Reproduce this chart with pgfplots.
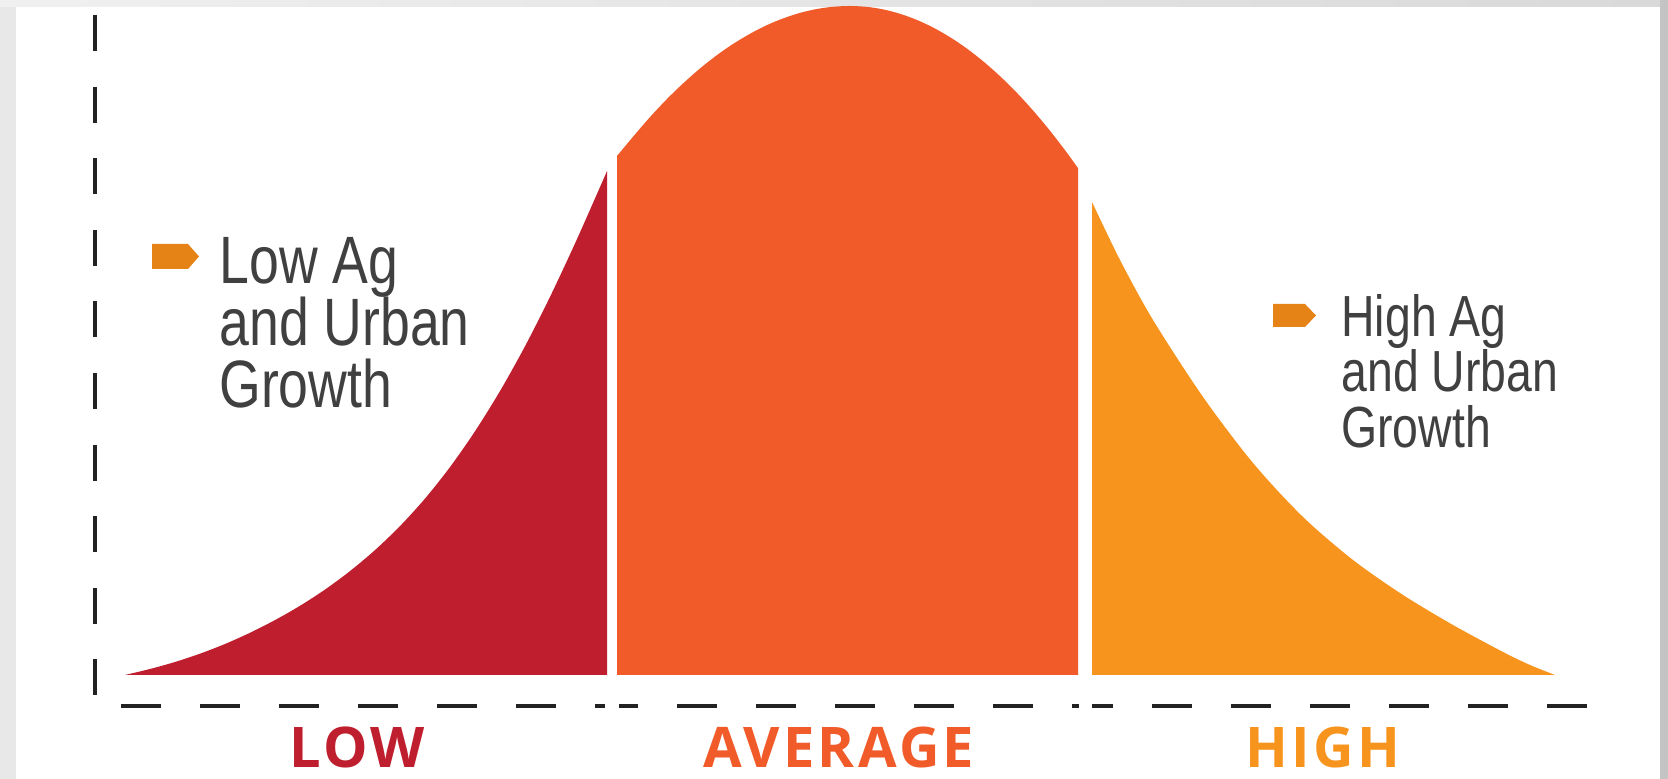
\documentclass[border=0pt]{standalone}
\usepackage{fontspec}
\setmainfont{Liberation Sans}
\newfontfamily\narrowfont[FakeStretch=0.8]{Liberation Sans}
\newfontfamily\catfont[LetterSpace=6]{Open Sans}
\usepackage{pgfplots}
\pgfplotsset{compat=1.18}
\definecolor{lowred}{HTML}{BE1E2D}
\definecolor{avgorange}{HTML}{F15A29}
\definecolor{highorange}{HTML}{F7941D}
\definecolor{marker}{HTML}{E58316}
\definecolor{txt}{HTML}{404040}
\definecolor{dashc}{HTML}{222222}
\begin{document}
\begin{tikzpicture}
\begin{axis}[width=834pt,height=389.5pt,scale only axis,
  xmin=0,xmax=1668,ymin=-104,ymax=675,
  axis lines=none,ticks=none,clip=false]
% frame
\fill[black!9] (axis cs:0,-104) rectangle (axis cs:1668,675);
\fill[left color=black!6,right color=black!15] (axis cs:0,668) rectangle (axis cs:1668,675);
\fill[black!23] (axis cs:1660,-104) rectangle (axis cs:1668,675);
\fill[white] (axis cs:16,-104) rectangle (axis cs:1660,668);
% low
\addplot[draw=none,fill=lowred,smooth,tension=0.5] coordinates {
(125,0) (150,6) (175,13) (200,21.3) (225,31) (250,42.2) (275,54.9) (300,69.2)
(325,85.4) (350,103.9) (375,124.9) (400,148.9) (425,176.4) (450,207.9) (475,243.7)
(500,283.9) (525,328.7) (550,378.1) (575,431.5) (600,487.9) (607,504)} \closedcycle;
% average
\addplot[draw=none,fill=avgorange,smooth,tension=0.5] coordinates {
(617,519) (633,538.2) (650,557.9) (667,576) (683,591.5) (700,606.5) (717,619.9)
(733,631) (750,641.2) (767,649.9) (783,656.5) (800,662.1) (817,666) (833,668.2)
(850,669) (867,668.1) (883,665.6) (900,661.2) (917,655) (933,647.5) (950,637.8)
(967,626.3) (983,613.8) (1000,598.8) (1017,582) (1033,564.5) (1050,544.2)
(1067,522.1) (1078,506.8)} \closedcycle;
% high
\addplot[draw=none,fill=highorange,smooth,tension=0.5] coordinates {
(1092,473) (1120,415) (1153,355) (1203,278) (1253,212) (1303,158)
(1353,115) (1403,80) (1453,50) (1503,23) (1530,10) (1555,0)} \closedcycle;
% dashed axes
\addplot[dashc,line width=1.8pt,dash pattern=on 18pt off 17.8pt] coordinates {(95,660) (95,-20)};
\addplot[dashc,line width=1.8pt,dash pattern=on 20pt off 19.5pt] coordinates {(121,-31) (605,-31)};
\addplot[dashc,line width=1.8pt,dash pattern=on 20pt off 19.5pt,dash phase=10.5pt] coordinates {(619,-31) (1079,-31)};
\addplot[dashc,line width=1.8pt,dash pattern=on 20pt off 19.5pt,dash phase=9.5pt] coordinates {(1092,-31) (1587,-31)};
% markers
\fill[marker] (axis cs:152,431) -- (axis cs:188,431) -- (axis cs:199,418.5) -- (axis cs:188,406) -- (axis cs:152,406) -- cycle;
\fill[marker] (axis cs:1273,371) -- (axis cs:1305,371) -- (axis cs:1316,359.5) -- (axis cs:1305,348) -- (axis cs:1273,348) -- cycle;
% left text
\node[anchor=base west,text=txt,inner sep=0,font=\narrowfont\fontsize{33.5pt}{33.5pt}\selectfont] at (axis cs:219,391) {Low Ag};
\node[anchor=base west,text=txt,inner sep=0,font=\narrowfont\fontsize{33.5pt}{33.5pt}\selectfont] at (axis cs:219,329) {and Urban};
\node[anchor=base west,text=txt,inner sep=0,font=\narrowfont\fontsize{33.5pt}{33.5pt}\selectfont] at (axis cs:219,267) {Growth};
% right text
\node[anchor=base west,text=txt,inner sep=0,font=\narrowfont\fontsize{29pt}{29pt}\selectfont] at (axis cs:1341,338) {High Ag};
\node[anchor=base west,text=txt,inner sep=0,font=\narrowfont\fontsize{29pt}{29pt}\selectfont] at (axis cs:1341,283) {and Urban};
\node[anchor=base west,text=txt,inner sep=0,font=\narrowfont\fontsize{29pt}{29pt}\selectfont] at (axis cs:1341,227) {Growth};
% category labels
\node[anchor=base,text=lowred,inner sep=0,font=\catfont\bfseries\fontsize{28pt}{28pt}\selectfont] at (axis cs:357,-93) {LOW};
\node[anchor=base,text=avgorange,inner sep=0,font=\catfont\bfseries\fontsize{28pt}{28pt}\selectfont] at (axis cs:839,-93) {AVERAGE};
\node[anchor=base,text=highorange,inner sep=0,font=\catfont\bfseries\fontsize{28pt}{28pt}\selectfont] at (axis cs:1323,-93) {HIGH};
\end{axis}
\end{tikzpicture}
\end{document}
